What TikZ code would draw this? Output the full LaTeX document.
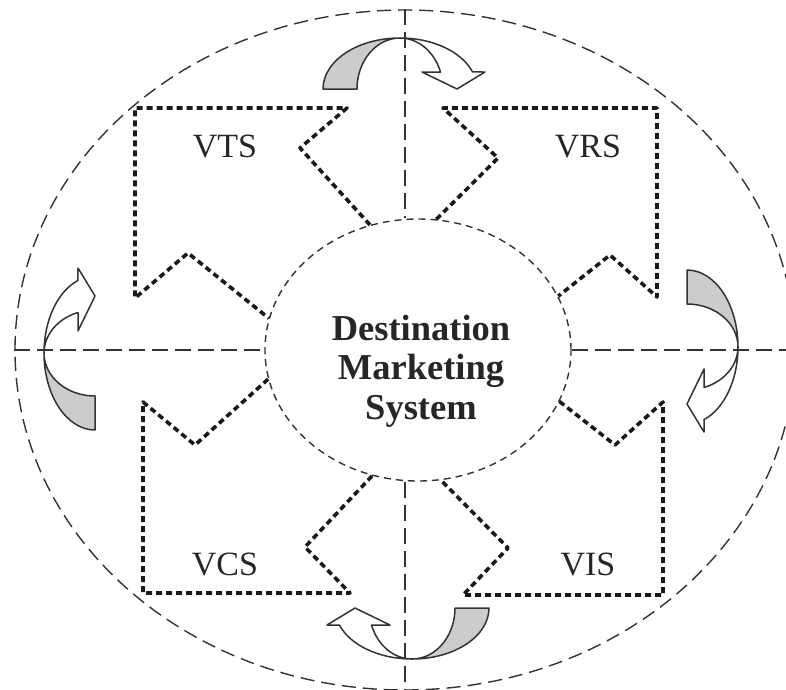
\documentclass[tikz,border=0pt]{standalone}
\usepackage{fontspec}
\setmainfont{Liberation Serif}
\usetikzlibrary{shapes.geometric}

\tikzset{
  turn/.pic={
    \filldraw[twist, fill=gray!40] (-77,0) arc[start angle=180, end angle=270, x radius=77, y radius=51]
      arc[start angle=270, end angle=180, x radius=43, y radius=51] -- cycle;
    \filldraw[twist, fill=white] (0,-51) arc[start angle=270, end angle=340.5, x radius=77, y radius=51]
      -- (85,-17) -- (57,0) -- (22,-17) -- (40.5,-17)
      arc[start angle=340.5, end angle=270, x radius=43, y radius=51] -- cycle;
  }
}

\begin{document}
\begin{tikzpicture}[x=1pt, y=-1pt, line join=round,
  every node/.style={font=\fontsize{34}{40}\selectfont, inner sep=0pt, text=black!85},
  region/.style={draw=black!80, ellipse, dash pattern=on 14pt off 7pt, line width=1.4pt, minimum width=780pt, minimum height=680pt},
  hub/.style={draw=black!80, ellipse, dash pattern=on 7pt off 5pt, line width=1.4pt, minimum width=306pt, minimum height=262pt},
  axis/.style={draw=black!80, dash pattern=on 16pt off 7pt, line width=1.4pt},
  zone/.style={draw=black!90, dash pattern=on 6pt off 4pt, line width=3.6pt},
  twist/.style={draw=black!80, line width=1.5pt}]
	\useasboundingbox (0,0) rectangle (786,689);
	\clip (0,0) rectangle (786,689);
	\node[region] (frame) at (405,350) {};
	\node[hub] (dms) at (418,350) {};
	\node[font=\bfseries\fontsize{36.5}{39.5}\selectfont, align=center] (dmstext) at (421,371) {Destination\\Marketing\\System};
	% four subsystems
	\draw[zone] (dms.111.8) -- (300,148) -- (347,108) -- (135,108) -- (135,298) -- (188,253) -- (dms.168.7);
	\draw[zone] (dms.82.7) -- (498,158) -- (443,108) -- (657,108) -- (657,297) -- (610,255) -- (dms.21.5);
	\draw[zone] (dms.191.8) -- (195,445) -- (143,402) -- (143,593) -- (350,593) -- (305,547) -- (dms.250.2);
	\draw[zone] (dms.340) -- (615,445) -- (663,402) -- (663,595) -- (463,595) -- (508,548) -- (dms.280.7);
	\node (vts) at (225,146) {VTS};
	\node (vrs) at (588,146) {VRS};
	\node (vcs) at (225,564) {VCS};
	\node (vis) at (588,564) {VIS};
	\pic at (400,89) {turn};
	\pic[rotate=-90] at (687,347) {turn};
	\pic[rotate=180] at (412,608) {turn};
	\pic[rotate=90] at (95,353) {turn};
	\draw[axis] (frame.west) -- (dms.west);
	\draw[axis] (dms.east) -- (frame.east);
	\draw[axis] (frame.north) -- (frame.north |- dms.north);
	\draw[axis] (frame.south |- dms.south) -- (frame.south);
\end{tikzpicture}
\end{document}
